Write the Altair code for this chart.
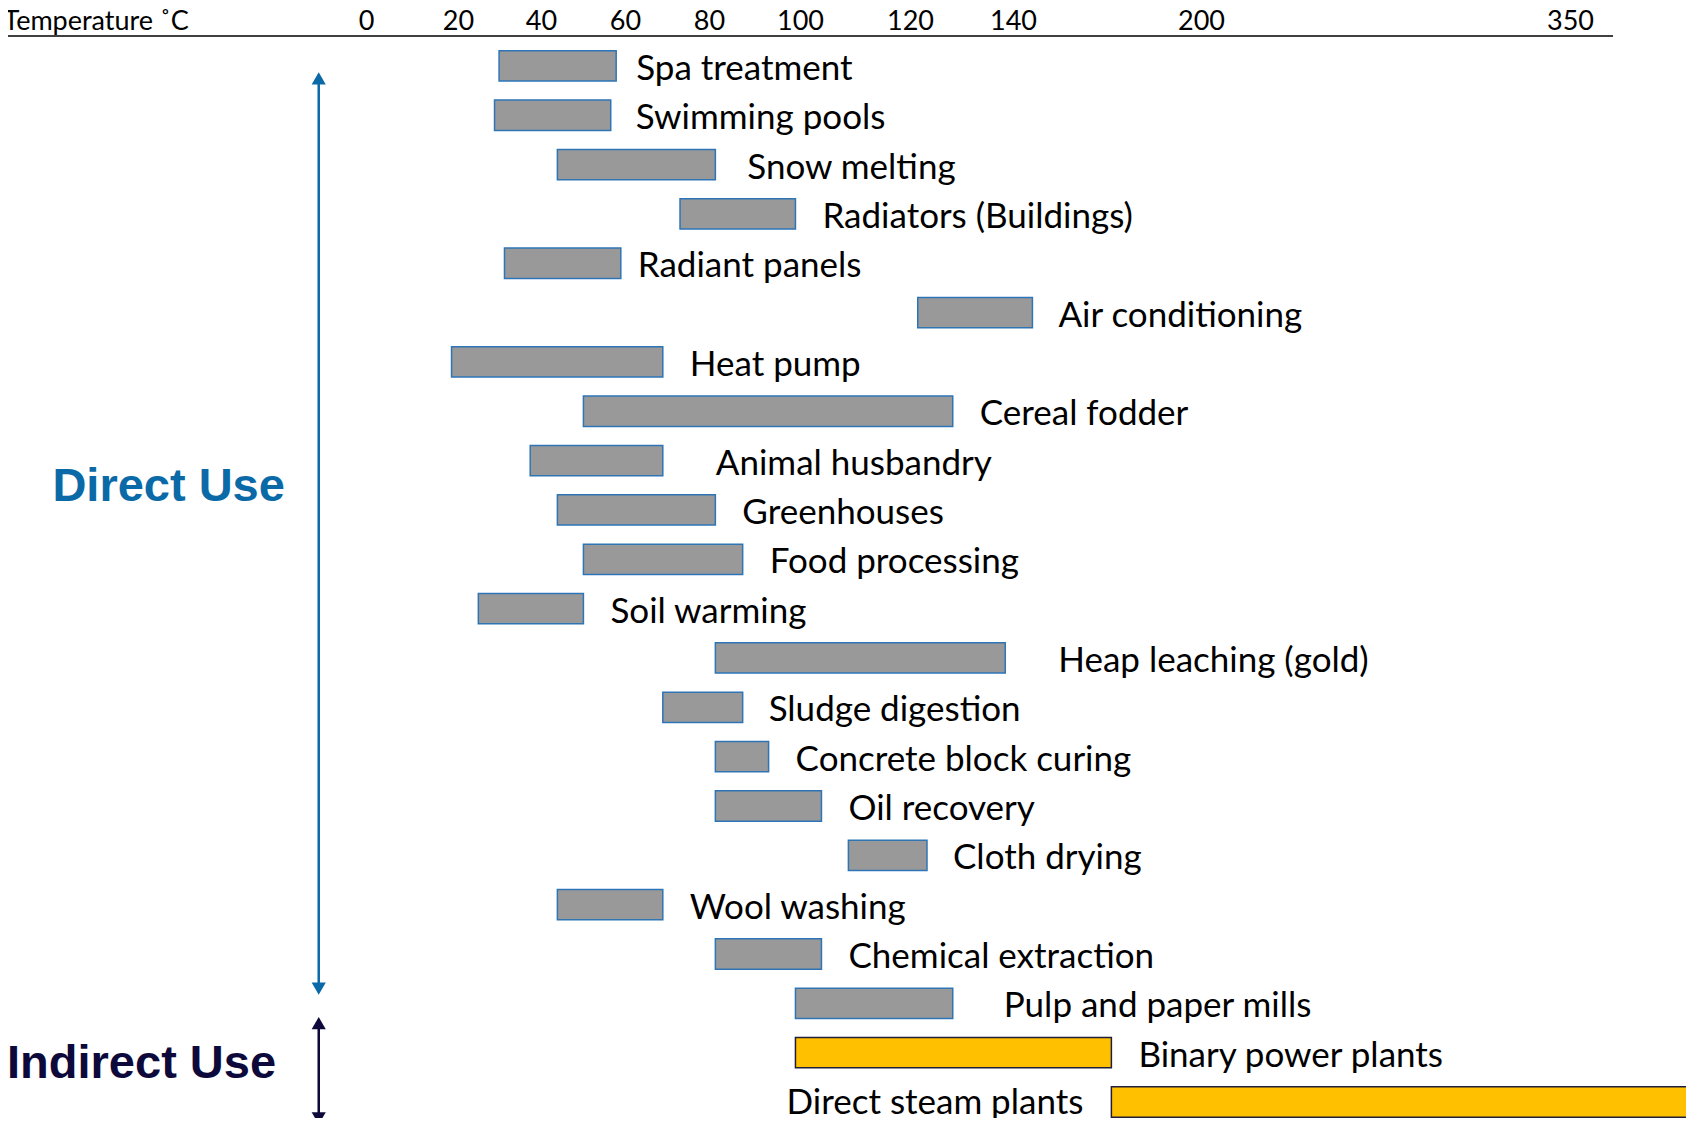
import altair as alt
import numpy as np
import pandas as pd

# ---------------- data ----------------
names = [
    "Spa treatment", "Swimming pools", "Snow melting", "Radiators (Buildings)",
    "Radiant panels", "Air conditioning", "Heat pump", "Cereal fodder",
    "Animal husbandry", "Greenhouses", "Food processing", "Soil warming",
    "Heap leaching (gold)", "Sludge digestion", "Concrete block curing",
    "Oil recovery", "Cloth drying", "Wool washing", "Chemical extraction",
    "Pulp and paper mills", "Binary power plants", "Direct steam plants",
]
lows = [29.9, 28.8, 43.9, 73.1, 31.2, 121.5, 18.6, 50.1, 37.4, 43.9, 50.1, 24.9,
        81.4, 69.0, 81.4, 81.4, 108.8, 43.9, 81.4, 99.0, 99.0, 171.4]
highs = [57.9, 56.6, 81.4, 99.0, 59.0, 146.2, 69.0, 128.3, 69.0, 81.4, 87.4, 50.1,
         138.5, 87.4, 93.1, 103.9, 123.3, 69.0, 103.9, 128.3, 171.4, 399.7]
kinds = ["Direct Use"] * 20 + ["Indirect Use"] * 2
tick_values = [0, 20, 40, 60, 80, 100, 120, 140, 200, 350]

# ---------------- layout (non-uniform temperature axis) ----------------
tick_pixels = [358, 450, 533, 617, 701, 792, 902, 1005, 1193, 1562]
x_domain = [-78] + tick_values + [400]
x_range = [0] + tick_pixels + [1685]
label_gap_px = [20, 25, 32, 27, 17, 26, 27, 27, 53, 27, 27, 27, 53, 26, 27, 27,
                26, 27, 27, 51, 27, -28]

W, H = 1678, 1082
FONT = "Lato"

def to_px(v):
    return np.interp(v, x_domain, x_range)

def to_temp(p):
    return float(np.interp(p, x_range, x_domain))

rows = list(range(len(names)))
label_x = []
for i in rows:
    if i == len(names) - 1:
        label_x.append(to_temp(to_px(lows[i]) + label_gap_px[i]))
    else:
        label_x.append(to_temp(to_px(highs[i]) + label_gap_px[i]))

df = pd.DataFrame({"name": names, "lo": lows, "hi": highs, "kind": kinds,
                   "row": rows, "lx": label_x})

xs = alt.Scale(type="linear", domain=x_domain, range=x_range, zero=False, nice=False)
ys = alt.Scale(domain=[-0.606, 21.324], reverse=True, zero=False, nice=False)

x_axis = alt.Axis(
    orient="top", values=tick_values, domain=False, ticks=False, tickSize=0,
    grid=False, labelFont=FONT, labelFontSize=27, labelColor="black",
    labelBaseline="middle", labelPadding=15, labelFlush=False, labelOverlap=False,
    title="Temperature ˚C", titleFont=FONT, titleFontSize=27,
    titleFontWeight="normal", titleColor="black", titleAlign="left",
    titleAnchor="start", titleBaseline="middle", titleX=-5, titleY=-15, titleAngle=0)

base = alt.Chart(df)

bars = base.transform_calculate(
    y0="datum.row - 0.307", y1="datum.row + 0.307"
).mark_rect(strokeWidth=1.5).encode(
    x=alt.X("lo:Q", scale=xs, axis=x_axis),
    x2="hi:Q",
    y=alt.Y("y0:Q", scale=ys, axis=None),
    y2="y1:Q",
    fill=alt.Fill("kind:N", scale=alt.Scale(domain=["Direct Use", "Indirect Use"],
                                            range=["#999999", "#FFC000"]), legend=None),
    stroke=alt.Stroke("kind:N", scale=alt.Scale(domain=["Direct Use", "Indirect Use"],
                                                range=["#2E75B6", "#1F1F3A"]), legend=None),
)

labels_left = base.transform_filter("datum.row < 21").mark_text(
    align="left", baseline="middle", font=FONT, fontSize=35, color="black", dy=3
).encode(
    x=alt.X("lx:Q", scale=xs, axis=x_axis),
    y=alt.Y("row:Q", scale=ys, axis=None),
    text="name:N",
)
labels_right = base.transform_filter("datum.row == 21").mark_text(
    align="right", baseline="middle", font=FONT, fontSize=35, color="black", dy=1
).encode(
    x=alt.X("lx:Q", scale=xs, axis=x_axis),
    y=alt.Y("row:Q", scale=ys, axis=None),
    text="name:N",
)

# top axis line
axis_line_df = pd.DataFrame({"a": [-78], "b": [367.5]})
axis_line = alt.Chart(axis_line_df).mark_rule(color="black", strokeWidth=1.5).encode(
    x=alt.X("a:Q", scale=xs, axis=x_axis), x2="b:Q", y=alt.value(0)
)

# group arrows & titles
groups = pd.DataFrame({
    "group": ["Direct Use", "Indirect Use"],
    "ax": [-10.3, -10.3],
    "top": [0.255, 19.40],
    "bot": [18.70, 21.33],
    "tx": [-43.0, -48.9],
    "ty": [8.53, 20.23],
})
gcol = alt.Scale(domain=["Direct Use", "Indirect Use"], range=["#0A69A7", "#0D0A3B"])
gbase = alt.Chart(groups)
arrow_shaft = gbase.mark_rule(strokeWidth=2.5).encode(
    x=alt.X("ax:Q", scale=xs, axis=x_axis),
    y=alt.Y("top:Q", scale=ys, axis=None), y2="bot:Q",
    color=alt.Color("group:N", scale=gcol, legend=None),
)
arrow_up = gbase.mark_point(shape="triangle-up", filled=True, size=200, opacity=1).encode(
    x=alt.X("ax:Q", scale=xs, axis=x_axis),
    y=alt.Y("top:Q", scale=ys, axis=None),
    color=alt.Color("group:N", scale=gcol, legend=None),
)
arrow_down = gbase.mark_point(shape="triangle-down", filled=True, size=200, opacity=1).encode(
    x=alt.X("ax:Q", scale=xs, axis=x_axis),
    y=alt.Y("bot:Q", scale=ys, axis=None),
    color=alt.Color("group:N", scale=gcol, legend=None),
)
group_text = gbase.mark_text(
    align="center", baseline="middle", font="Liberation Sans", fontWeight="bold", fontSize=47
).encode(
    x=alt.X("tx:Q", scale=xs, axis=x_axis),
    y=alt.Y("ty:Q", scale=ys, axis=None),
    text="group:N",
    color=alt.Color("group:N", scale=gcol, legend=None),
)

chart = alt.layer(
    bars, axis_line, labels_left, labels_right, arrow_shaft, arrow_up, arrow_down, group_text
).resolve_scale(color="independent", fill="independent", stroke="independent").properties(
    width=W, height=H,
    autosize=alt.AutoSizeParams(type="none"),
    padding={"left": 0, "top": 28, "right": 0, "bottom": 0},
).configure(background="white").configure_view(stroke=None)

chart.save("out.html", embed_options={"renderer": "svg", "actions": False})
